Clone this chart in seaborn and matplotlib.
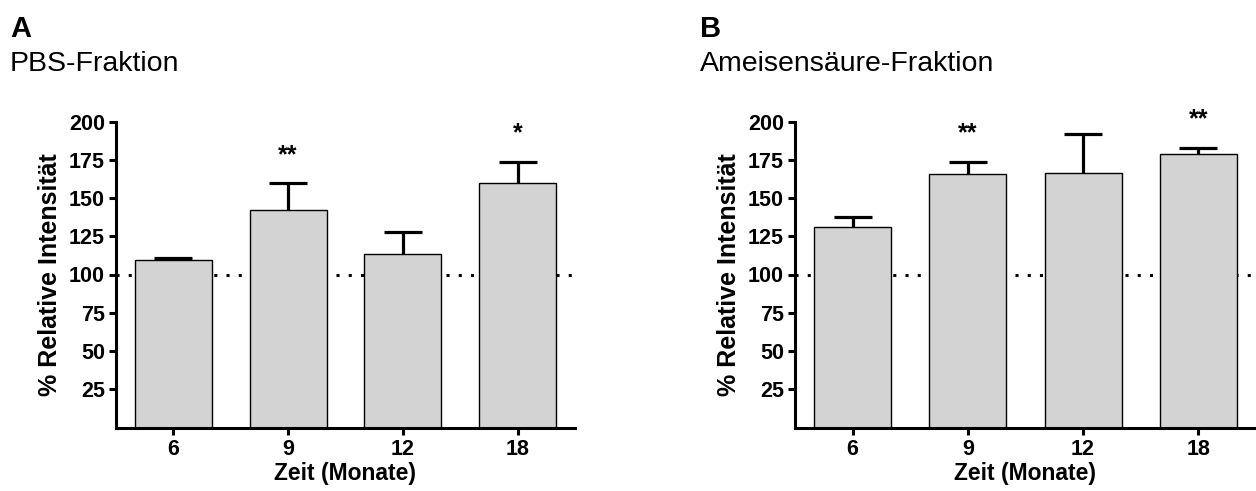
import matplotlib
matplotlib.use("Agg")
import matplotlib.pyplot as plt
import seaborn as sns
import pandas as pd
import numpy as np

# ---- data ----
months = ["6", "9", "12", "18"]
pbs_mean = [109.5, 142.2, 113.4, 159.6]
pbs_sem = [1.5, 17.4, 14.6, 14.1]
pbs_sig = ["", "**", "", "*"]
fa_mean = [131.2, 165.5, 166.5, 178.6]
fa_sem = [6.4, 8.2, 25.3, 4.3]
fa_sig = ["", "**", "", "**"]
yticks = [25, 50, 75, 100, 125, 150, 175, 200]
panel_letters = ["A", "B"]
panel_titles = ["PBS-Fraktion", "Ameisensäure-Fraktion"]
xlabel = "Zeit (Monate)"
ylabel = "% Relative Intensität"
baseline = 100

sns.set_theme(style="ticks")
plt.rcParams["font.family"] = ["Liberation Sans", "DejaVu Sans"]
plt.rcParams.update({"text.color": "black", "axes.labelcolor": "black",
                     "xtick.color": "black", "ytick.color": "black",
                     "axes.edgecolor": "black"})

fig = plt.figure(figsize=(12.56, 4.91), dpi=100)
W, H = 1256, 491

axes_px = [(116, 575), (795, 1256)]
top_px, bot_px = 121.5, 427.5
letter_x = [10, 700]

panels = [(pbs_mean, pbs_sem, pbs_sig), (fa_mean, fa_sem, fa_sig)]

for i, (mean, sem, sig) in enumerate(panels):
    l, r = axes_px[i]
    ax = fig.add_axes([l / W, 1 - bot_px / H, (r - l) / W, (bot_px - top_px) / H])
    df = pd.DataFrame({"Monat": months, "Wert": mean})
    ax.axhline(baseline, color="black", lw=2.2, ls=(0, (1, 3)), zorder=0,
               dash_capstyle="butt")
    sns.barplot(data=df, x="Monat", y="Wert", order=months, color="#d3d3d3",
                saturation=1, width=0.67, edgecolor="black", linewidth=1.0,
                errorbar=None, ax=ax, zorder=2)
    xs = np.arange(len(months))
    m = np.array(mean)
    s = np.array(sem)
    _, caps, _ = ax.errorbar(xs, m, yerr=[np.zeros_like(s), s], fmt="none",
                             ecolor="black", elinewidth=2.3, capsize=14,
                             capthick=2.3, zorder=3)
    caps[0].set_visible(False)
    for x, top, t in zip(xs, m + s, sig):
        if t:
            ax.text(x, top + 14, t, ha="center", va="baseline",
                    fontsize=18, fontweight="bold", clip_on=False)
    ax.set_xlim(-0.5, 3.5)
    ax.set_ylim(0, 200)
    ax.set_yticks(yticks)
    ax.set_xticks(xs)
    ax.set_xticklabels(months)
    for sp in ["top", "right"]:
        ax.spines[sp].set_visible(False)
    for sp in ["left", "bottom"]:
        ax.spines[sp].set_linewidth(2.2)
        ax.spines[sp].set_color("black")
    ax.tick_params(axis="both", width=2.2, length=5, color="black",
                   labelsize=15.5, pad=3, labelcolor="black")
    for lab in ax.get_xticklabels() + ax.get_yticklabels():
        lab.set_fontweight("bold")
    ax.set_xlabel(xlabel, fontsize=16.5, fontweight="bold", labelpad=2)
    ax.set_ylabel(ylabel, fontsize=18, fontweight="bold", labelpad=5)
    ax.patch.set_visible(False)

    fig.text(letter_x[i] / W, 1 - 37 / H, panel_letters[i], fontsize=21,
             fontweight="bold", va="baseline", ha="left")
    fig.text(letter_x[i] / W, 1 - 71 / H, panel_titles[i], fontsize=20.5,
             va="baseline", ha="left")

fig.savefig("out.png", dpi=100)
